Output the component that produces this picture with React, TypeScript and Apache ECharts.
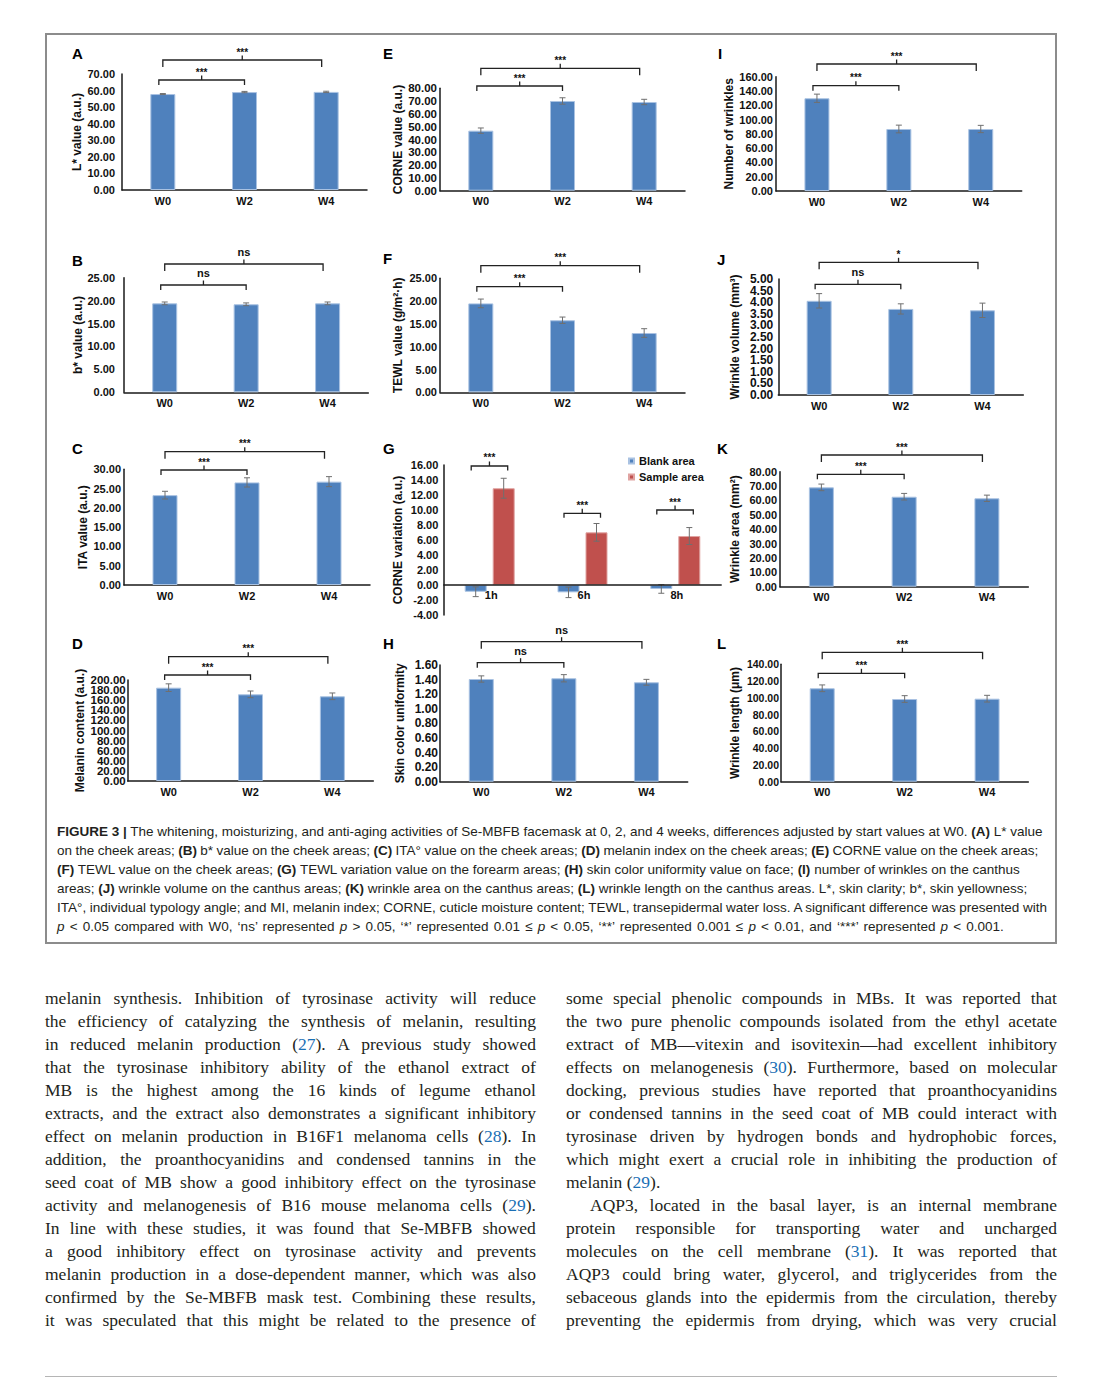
import React, { useEffect, useRef } from "react";
import * as echarts from "echarts";

// ---------------- DATA ----------------
const weeks = ["W0", "W2", "W4"];
const hours = ["1h", "6h", "8h"];

const lValue = [57.9, 59.1, 59.2];
const lErr = [0.3, 0.4, 0.4];
const corneValue = [46.9, 70.1, 69.3];
const corneErr = [2.1, 2.5, 2.1];
const wrinkleCount = [129.8, 86.8, 86.8];
const wrinkleCountErr = [5.8, 5.4, 5.1];
const bValue = [19.4, 19.2, 19.4];
const bErr = [0.3, 0.3, 0.3];
const tewlValue = [19.5, 15.8, 13.0];
const tewlErr = [0.95, 0.7, 0.95];
const wrinkleVolume = [4.06, 3.71, 3.65];
const wrinkleVolumeErr = [0.31, 0.22, 0.31];
const itaValue = [23.3, 26.6, 26.8];
const itaErr = [1.0, 1.2, 1.3];
const blankVariation = [-0.9, -0.98, -0.53];
const blankErr = [0.65, 0.7, 0.57];
const sampleVariation = [12.9, 7.02, 6.53];
const sampleErr = [1.33, 1.18, 1.13];
const wrinkleArea = [69.1, 62.6, 61.5];
const wrinkleAreaErr = [2.3, 2.3, 2.2];
const melaninValue = [184.8, 171.6, 167.7];
const melaninErr = [7.6, 6.6, 6.6];
const uniformityValue = [1.408, 1.418, 1.363];
const uniformityErr = [0.043, 0.05, 0.04];
const wrinkleLength = [111.4, 98.6, 99.0];
const wrinkleLengthErr = [4, 4, 4];

// significance: [W0 vs W2, W0 vs W4]
const sigA = ["***", "***"];
const sigB = ["ns", "ns"];
const sigC = ["***", "***"];
const sigD = ["***", "***"];
const sigE = ["***", "***"];
const sigF = ["***", "***"];
const sigG = ["***", "***", "***"];
const sigH = ["ns", "ns"];
const sigI = ["***", "***"];
const sigJ = ["ns", "*"];
const sigK = ["***", "***"];
const sigL = ["***", "***"];

const legendNames = ["Blank area", "Sample area"];

// ---------------- STYLE / LAYOUT ----------------
const FONT = "'Liberation Sans', Arial, Helvetica, sans-serif";
const AXIS_COLOR = "#1a1a1a";
const TEXT_COLOR = "#111";
const BLUE = "#4f81bd";
const RED = "#c0504d";
const ERR_COLOR = "#6f6f6f";
const BAR_W = 25;
const G_BAR_W = 22;
const G_GAP = 6;

type Panel = {
  letter: string; lx: number; ly: number;
  left: number; top: number; right: number; bottom: number;
  min: number; max: number; interval: number;
  yMargin: number; nameDist: number; tickFont: number; customTicks?: boolean;
  yName: string; values: number[]; errs: number[]; sig: string[];
  bracket: number[];
};

const panels: Panel[] = [
  { letter: "A", lx: 72, ly: 53, left: 122, top: 74, right: 367, bottom: 190, min: 0, max: 70, interval: 10, yMargin: 7, nameDist: 45, tickFont: 11, yName: "L* value (a.u.)", values: lValue, errs: lErr, sig: sigA, bracket: [6, -14] },
  { letter: "E", lx: 383, ly: 53, left: 440, top: 88.3, right: 685, bottom: 190.7, min: 0, max: 80, interval: 10, yMargin: 3, nameDist: 42, tickFont: 11.5, customTicks: true, yName: "CORNE value (a.u.)", values: corneValue, errs: corneErr, sig: sigE, bracket: [-2.3, -20] },
  { letter: "I", lx: 718, ly: 53, left: 776, top: 76.7, right: 1021.7, bottom: 191, min: 0, max: 160, interval: 20, yMargin: 3, nameDist: 44, tickFont: 11, yName: "Number of wrinkles", values: wrinkleCount, errs: wrinkleCountErr, sig: sigI, bracket: [9, -12.7] },
  { letter: "B", lx: 72, ly: 260, left: 124, top: 277.7, right: 368.3, bottom: 392.3, min: 0, max: 25, interval: 5, yMargin: 9, nameDist: 41, tickFont: 11, yName: "b* value (a.u.)", values: bValue, errs: bErr, sig: sigB, bracket: [7.3, -13.7] },
  { letter: "F", lx: 383, ly: 258, left: 440, top: 278.3, right: 685, bottom: 392.3, min: 0, max: 25, interval: 5, yMargin: 3, nameDist: 42, tickFont: 11, yName: "TEWL value (g/m²·h)", values: tewlValue, errs: tewlErr, sig: sigF, bracket: [8.4, -12.6] },
  { letter: "J", lx: 717, ly: 259, left: 778.3, top: 279, right: 1023.3, bottom: 395, min: 0, max: 5, interval: 0.5, yMargin: 5, nameDist: 43, tickFont: 12, customTicks: true, yName: "Wrinkle volume (mm³)", values: wrinkleVolume, errs: wrinkleVolumeErr, sig: sigJ, bracket: [5.3, -16.7] },
  { letter: "C", lx: 72, ly: 448, left: 124, top: 469.3, right: 370, bottom: 585, min: 0, max: 30, interval: 5, yMargin: 3, nameDist: 41, tickFont: 11, yName: "ITA value (a.u.)", values: itaValue, errs: itaErr, sig: sigC, bracket: [0.7, -17.6] },
  { letter: "K", lx: 717, ly: 448, left: 780, top: 471.7, right: 1028.3, bottom: 586.7, min: 0, max: 80, interval: 10, yMargin: 3, nameDist: 45, tickFont: 11, yName: "Wrinkle area (mm²)", values: wrinkleArea, errs: wrinkleAreaErr, sig: sigK, bracket: [2.6, -16.7] },
  { letter: "D", lx: 72, ly: 643, left: 127.7, top: 680, right: 373.3, bottom: 781, min: 0, max: 200, interval: 20, yMargin: 2, nameDist: 47.7, tickFont: 11.5, customTicks: true, yName: "Melanin content (a.u.)", values: melaninValue, errs: melaninErr, sig: sigD, bracket: [-5, -23.3] },
  { letter: "H", lx: 383, ly: 643, left: 440, top: 665, right: 687.7, bottom: 781.7, min: 0, max: 1.6, interval: 0.2, yMargin: 2, nameDist: 40, tickFont: 12, customTicks: true, yName: "Skin color uniformity", values: uniformityValue, errs: uniformityErr, sig: sigH, bracket: [-2.3, -23.3] },
  { letter: "L", lx: 717, ly: 643, left: 781, top: 664.3, right: 1028.3, bottom: 781.7, min: 0, max: 140, interval: 20, yMargin: 2, nameDist: 46, tickFont: 10.5, yName: "Wrinkle length (μm)", values: wrinkleLength, errs: wrinkleLengthErr, sig: sigL, bracket: [9, -12] },
];

const gLayout = {
  letter: "G", lx: 383, ly: 448, left: 443.3, top: 465, right: 721.7, bottom: 615,
  min: -4, max: 16, interval: 2, yMargin: 5, nameDist: 45, tickFont: 11,
  yName: "CORNE variation (a.u.)",
  bracketLevels: [15.87, 9.56, 10.0],
};

// ---------------- HELPERS ----------------
function bracketShape(x1: number, x2: number, y: number, drop: number, label: string) {
  const xm = (x1 + x2) / 2;
  const rise = 4.5;
  const isNs = label === "ns";
  return {
    type: "group",
    children: [
      { type: "polyline", shape: { points: [[x1, y + drop], [x1, y], [x2, y], [x2, y + drop]] }, style: { stroke: "#222", lineWidth: 1.3, fill: "none" } },
      { type: "line", shape: { x1: xm, y1: y, x2: xm, y2: y - rise }, style: { stroke: "#222", lineWidth: 1.3 } },
      {
        type: "text",
        style: {
          text: label, x: xm, y: y - rise + (isNs ? -2 : 1.5), align: "center", verticalAlign: "bottom",
          font: isNs ? `bold 11px ${FONT}` : `bold 10px ${FONT}`, fill: TEXT_COLOR,
        },
      },
    ],
  };
}

function errShape(cx: number, yTop: number, yBot: number) {
  const st = { stroke: ERR_COLOR, lineWidth: 1 };
  return {
    type: "group",
    children: [
      { type: "line", shape: { x1: cx, y1: yTop, x2: cx, y2: yBot }, style: st },
      { type: "line", shape: { x1: cx - 3, y1: yTop, x2: cx + 3, y2: yTop }, style: st },
      { type: "line", shape: { x1: cx - 3, y1: yBot, x2: cx + 3, y2: yBot }, style: st },
    ],
  };
}

function axisPair(i: number, L: any, cats: string[], xMargin: number, showX: boolean) {
  const x = {
    type: "category", gridIndex: i, data: cats,
    axisLine: { show: showX, lineStyle: { color: AXIS_COLOR, width: 1.5 } },
    axisTick: { show: false },
    axisLabel: { show: showX, fontFamily: FONT, fontWeight: "bold", fontSize: 11, color: TEXT_COLOR, margin: xMargin },
  };
  const y = {
    type: "value", gridIndex: i, min: L.min, max: L.max, interval: L.interval,
    splitLine: { show: false },
    axisLine: { show: true, lineStyle: { color: AXIS_COLOR, width: 1.5 } },
    axisTick: { show: false },
    axisLabel: {
      show: !L.customTicks,
      fontFamily: FONT, fontWeight: "bold", fontSize: L.tickFont,
      color: TEXT_COLOR, margin: L.yMargin, showMinLabel: true, showMaxLabel: true,
      formatter: (v: number) => v.toFixed(2),
    },
    name: L.yName, nameLocation: "middle", nameRotate: 90, nameGap: L.nameDist - 6,
    nameTextStyle: { fontFamily: FONT, fontWeight: "bold", fontSize: 12, color: TEXT_COLOR },
  };
  return { x, y };
}

function tickValues(min: number, max: number, step: number) {
  const out: number[][] = [];
  const n = Math.round((max - min) / step);
  for (let k = 0; k <= n; k++) out.push([0, +(min + k * step).toFixed(6)]);
  return out;
}

function buildOption() {
  const grid: any[] = [];
  const xAxis: any[] = [];
  const yAxis: any[] = [];
  const series: any[] = [];
  const graphic: any[] = [];

  panels.forEach((p, i) => {
    grid.push({ left: p.left, top: p.top, width: p.right - p.left, height: p.bottom - p.top });
    const ax = axisPair(i, p, weeks, 5, true);
    xAxis.push(ax.x);
    yAxis.push(ax.y);
    series.push({
      type: "bar", xAxisIndex: i, yAxisIndex: i, data: p.values, barWidth: BAR_W, silent: true,
      itemStyle: { color: BLUE, borderColor: "#a9c2e2", borderWidth: 1 },
    });
    series.push({
      type: "custom", xAxisIndex: i, yAxisIndex: i, silent: true, z: 5,
      data: p.values.map((v, k) => [k, v, p.errs[k]]),
      renderItem: (params: any, api: any) => {
        const k = api.value(0), v = api.value(1), e = api.value(2);
        const t = api.coord([k, v + e]);
        const b = api.coord([k, v - e]);
        return errShape(t[0], t[1], b[1]);
      },
    });
    series.push({
      type: "custom", xAxisIndex: i, yAxisIndex: i, silent: true, z: 5,
      data: [[0, 1], [0, 2]],
      renderItem: (params: any, api: any) => {
        const k = params.dataIndex;
        const x1 = api.coord([api.value(0), 0])[0] + (k === 0 ? -4 : 0);
        const x2 = api.coord([api.value(1), 0])[0] + (k === 0 ? 0 : -4.5);
        const y = p.top + p.bracket[k];
        return bracketShape(x1, x2, y, k === 0 ? 5 : 7, p.sig[k]);
      },
    });
    if (p.customTicks) {
      series.push({
        type: "custom", xAxisIndex: i, yAxisIndex: i, silent: true, z: 6,
        data: tickValues(p.min, p.max, p.interval),
        renderItem: (params: any, api: any) => {
          const v = api.value(1);
          const c = api.coord([0, v]);
          const cs = params.coordSys;
          return {
            type: "text",
            style: {
              text: Number(v).toFixed(2), x: cs.x - p.yMargin, y: c[1], align: "right", verticalAlign: "middle",
              font: `bold ${p.tickFont}px ${FONT}`, fill: TEXT_COLOR,
            },
          };
        },
      });
    }
    graphic.push({ type: "text", x: p.lx, y: p.ly, style: { text: p.letter, font: `bold 15px ${FONT}`, fill: "#000", verticalAlign: "middle" } });
  });

  // Panel G
  const gi = panels.length;
  const G = gLayout;
  grid.push({ left: G.left, top: G.top, width: G.right - G.left, height: G.bottom - G.top });
  const gax = axisPair(gi, G, hours, 4, false);
  xAxis.push(gax.x);
  yAxis.push(gax.y);
  const gOff = (G_BAR_W + G_GAP) / 2;
  const gSets = [
    { name: legendNames[0], vals: blankVariation, errs: blankErr, color: BLUE, border: "#a9c2e2", off: -gOff },
    { name: legendNames[1], vals: sampleVariation, errs: sampleErr, color: RED, border: "#e0a3a1", off: gOff },
  ];
  gSets.forEach((s) => {
    series.push({
      type: "bar", name: s.name, xAxisIndex: gi, yAxisIndex: gi, data: s.vals, barWidth: G_BAR_W,
      barGap: `${(G_GAP / G_BAR_W) * 100}%`, silent: true,
      itemStyle: { color: s.color, borderColor: s.border, borderWidth: 1 },
    });
  });
  gSets.forEach((s) => {
    series.push({
      type: "custom", xAxisIndex: gi, yAxisIndex: gi, silent: true, z: 5,
      data: s.vals.map((v, k) => [k, v, s.errs[k]]),
      renderItem: (params: any, api: any) => {
        const k = api.value(0), v = api.value(1), e = api.value(2);
        const t = api.coord([k, v + e]);
        const b = api.coord([k, v - e]);
        return errShape(t[0] + s.off, t[1], b[1]);
      },
    });
  });
  // zero line with category labels for G
  series.push({
    type: "custom", xAxisIndex: gi, yAxisIndex: gi, silent: true, z: 6,
    data: hours.map((_, k) => [k, 0]),
    renderItem: (params: any, api: any) => {
      const c = api.coord([api.value(0), api.value(1)]);
      const cs = params.coordSys;
      const children: any[] = [
        { type: "text", style: { text: hours[params.dataIndex], x: c[0] + 1.5, y: c[1] + 4, align: "center", verticalAlign: "top", font: `bold 11px ${FONT}`, fill: TEXT_COLOR } },
      ];
      if (params.dataIndex === 0) {
        children.push({ type: "line", shape: { x1: cs.x, y1: c[1], x2: cs.x + cs.width, y2: c[1] }, style: { stroke: AXIS_COLOR, lineWidth: 1.5 } });
      }
      return { type: "group", children };
    },
  });
  series.push({
    type: "custom", xAxisIndex: gi, yAxisIndex: gi, silent: true, z: 5,
    data: hours.map((_, k) => [k, G.bracketLevels[k]]),
    renderItem: (params: any, api: any) => {
      const c = api.coord([api.value(0), api.value(1)]);
      return bracketShape(c[0] - 18.5, c[0] + 18, c[1], 4.5, sigG[params.dataIndex]);
    },
  });
  graphic.push({ type: "text", x: G.lx, y: G.ly, style: { text: G.letter, font: `bold 15px ${FONT}`, fill: "#000", verticalAlign: "middle" } });

  return {
    animation: false,
    backgroundColor: "transparent",
    tooltip: { show: false },
    legend: {
      show: true, data: legendNames, orient: "vertical", left: 623, top: 450,
      itemWidth: 5, itemHeight: 5, itemGap: 4, icon: "rect", selectedMode: false,
      textStyle: { fontFamily: FONT, fontWeight: "bold", fontSize: 11, color: TEXT_COLOR, lineHeight: 12 },
    },
    grid, xAxis, yAxis, series, graphic,
  };
}

// ---------------- TEXT ----------------
const captionLines = [
  "{FIGURE 3 |} The whitening, moisturizing, and anti-aging activities of Se-MBFB facemask at 0, 2, and 4 weeks, differences adjusted by start values at W0. {(A)} L* value",
  "on the cheek areas; {(B)} b* value on the cheek areas; {(C)} ITA° value on the cheek areas; {(D)} melanin index on the cheek areas; {(E)} CORNE value on the cheek areas;",
  "{(F)} TEWL value on the cheek areas; {(G)} TEWL variation value on the forearm areas; {(H)} skin color uniformity value on face; {(I)} number of wrinkles on the canthus",
  "areas; {(J)} wrinkle volume on the canthus areas; {(K)} wrinkle area on the canthus areas; {(L)} wrinkle length on the canthus areas. L*, skin clarity; b*, skin yellowness;",
  "ITA°, individual typology angle; and MI, melanin index; CORNE, cuticle moisture content; TEWL, transepidermal water loss. A significant difference was presented with",
  "~p~ < 0.05 compared with W0, ‘ns’ represented ~p~ > 0.05, ‘*’ represented 0.01 ≤ ~p~ < 0.05, ‘**’ represented 0.001 ≤ ~p~ < 0.01, and ‘***’ represented ~p~ < 0.001.",
];
const captionWordSpacing = [0, -0.3, 0, 0, -0.1, 1.4];

const leftColumn = [
  "melanin synthesis. Inhibition of tyrosinase activity will reduce",
  "the efficiency of catalyzing the synthesis of melanin, resulting",
  "in reduced melanin production (27). A previous study showed",
  "that the tyrosinase inhibitory ability of the ethanol extract of",
  "MB is the highest among the 16 kinds of legume ethanol",
  "extracts, and the extract also demonstrates a significant inhibitory",
  "effect on melanin production in B16F1 melanoma cells (28). In",
  "addition, the proanthocyanidins and condensed tannins in the",
  "seed coat of MB show a good inhibitory effect on the tyrosinase",
  "activity and melanogenesis of B16 mouse melanoma cells (29).",
  "In line with these studies, it was found that Se-MBFB showed",
  "a good inhibitory effect on tyrosinase activity and prevents",
  "melanin production in a dose-dependent manner, which was also",
  "confirmed by the Se-MBFB mask test. Combining these results,",
  "it was speculated that this might be related to the presence of",
];

const rightColumn = [
  "some special phenolic compounds in MBs. It was reported that",
  "the two pure phenolic compounds isolated from the ethyl acetate",
  "extract of MB—vitexin and isovitexin—had excellent inhibitory",
  "effects on melanogenesis (30). Furthermore, based on molecular",
  "docking, previous studies have reported that proanthocyanidins",
  "or condensed tannins in the seed coat of MB could interact with",
  "tyrosinase driven by hydrogen bonds and hydrophobic forces,",
  "which might exert a crucial role in inhibiting the production of",
  "melanin (29).",
  "AQP3, located in the basal layer, is an internal membrane",
  "protein responsible for transporting water and uncharged",
  "molecules on the cell membrane (31). It was reported that",
  "AQP3 could bring water, glycerol, and triglycerides from the",
  "sebaceous glands into the epidermis from the circulation, thereby",
  "preventing the epidermis from drying, which was very crucial",
];
const rightNoJustify = [8];
const rightIndent = [9];

const CITE_COLOR = "#1a6fb5";

function renderCaptionLine(line: string, key: number) {
  const parts = line.split(/(\{[^}]*\}|~[^~]*~)/g).filter((s) => s.length > 0);
  return (
    <div key={key} style={{ height: 19, lineHeight: "19px", whiteSpace: "nowrap", wordSpacing: captionWordSpacing[key] }}>
      {parts.map((s, i) => {
        if (s.startsWith("{")) return <b key={i}>{s.slice(1, -1)}</b>;
        if (s.startsWith("~")) return <i key={i}>{s.slice(1, -1)}</i>;
        return <span key={i}>{s}</span>;
      })}
    </div>
  );
}

function renderWord(w: string, i: number, trailing: string) {
  const m = w.match(/^(.*\()(\d+)(\).*)$/);
  if (m) {
    return (
      <span key={i}>
        {m[1]}<span style={{ color: CITE_COLOR }}>{m[2]}</span>{m[3]}{trailing}
      </span>
    );
  }
  return <span key={i}>{w + trailing}</span>;
}

function BodyLine({ text, justify, indent }: { text: string; justify: boolean; indent: boolean }) {
  const words = text.split(" ");
  if (!justify) {
    return (
      <div style={{ height: 23, lineHeight: "23px", whiteSpace: "nowrap", paddingLeft: indent ? 24 : 0 }}>
        {words.map((w, i) => renderWord(w, i, i === words.length - 1 ? "" : " "))}
      </div>
    );
  }
  return (
    <div
      style={{
        height: 23, lineHeight: "23px", whiteSpace: "nowrap",
        display: "flex", justifyContent: "space-between",
        paddingLeft: indent ? 24 : 0, boxSizing: "border-box",
      }}
    >
      {words.map((w, i) => renderWord(w, i, i === words.length - 1 ? "" : " "))}
    </div>
  );
}

export default function App() {
  const ref = useRef<HTMLDivElement>(null);
  useEffect(() => {
    const chart = echarts.init(ref.current as HTMLDivElement, null, { renderer: "svg" });
    chart.setOption(buildOption() as any);
    return () => chart.dispose();
  }, []);

  const bodyStyle: React.CSSProperties = {
    position: "absolute", top: 986.5, width: 491,
    fontFamily: "'Liberation Serif', 'Times New Roman', serif", fontSize: 17.5, color: "#231f20",
  };

  return (
    <div style={{ position: "absolute", left: 0, top: 0, width: 1100, height: 1383, background: "#fff", overflow: "hidden" }}>
      <div style={{ position: "absolute", left: 45, top: 33, width: 1012, height: 911, border: "2px solid #8c8c8c", boxSizing: "border-box" }} />
      <div ref={ref} style={{ position: "absolute", left: 0, top: 0, width: 1100, height: 812 }} />
      <div style={{ position: "absolute", left: 57, top: 821.5, fontFamily: FONT, fontSize: 13.5, color: "#231f20" }}>
        {captionLines.map((l, i) => renderCaptionLine(l, i))}
      </div>
      <div style={{ ...bodyStyle, left: 45 }}>
        {leftColumn.map((l, i) => <BodyLine key={i} text={l} justify={true} indent={false} />)}
      </div>
      <div style={{ ...bodyStyle, left: 566 }}>
        {rightColumn.map((l, i) => (
          <BodyLine key={i} text={l} justify={!rightNoJustify.includes(i)} indent={rightIndent.includes(i)} />
        ))}
      </div>
      <div style={{ position: "absolute", left: 45, top: 1376, width: 1012, height: 1, background: "#b5b5b5" }} />
    </div>
  );
}
